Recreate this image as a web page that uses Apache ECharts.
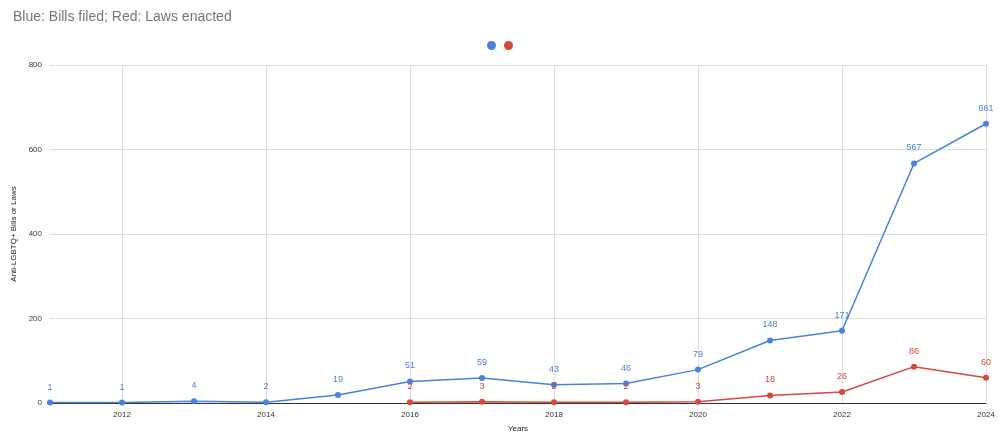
<!DOCTYPE html>
<html>
<head>
<meta charset="utf-8">
<script src="https://cdn.jsdelivr.net/npm/echarts@6/dist/echarts.min.js"></script>
<style>html,body{margin:0;padding:0;background:#fff}#main{width:1000px;height:438px}</style>
</head>
<body>
<div id="main"></div>
<script>
const years = [2011, 2012, 2013, 2014, 2015, 2016, 2017, 2018, 2019, 2020, 2021, 2022, 2023, 2024];
const billsFiled = [1, 1, 4, 2, 19, 51, 59, 43, 46, 79, 148, 171, 567, 661];
const lawYears = [2016, 2017, 2018, 2019, 2020, 2021, 2022, 2023, 2024];
const lawsEnacted = [2, 3, 2, 2, 3, 18, 26, 86, 60];
const yearTicks = [2012, 2014, 2016, 2018, 2020, 2022, 2024];

const pair = (xs, ys) => xs.map((x, i) => [x, ys[i]]);

const mkSeries = (name, color, data) => ({
  name: name,
  type: 'line',
  data: data,
  symbol: 'circle',
  symbolSize: 6,
  lineStyle: { color: color, width: 1.5 },
  itemStyle: { color: color },
  label: { show: true, position: 'top', color: color, fontSize: 9, distance: 8 }
});

const chart = echarts.init(document.getElementById('main'));
chart.setOption({
  animation: false,
  title: {
    text: 'Blue: Bills filed; Red: Laws enacted',
    left: 8, top: 5,
    textStyle: { fontSize: 14, fontWeight: 'normal', color: '#757575', fontFamily: 'Arial, Liberation Sans' }
  },
  legend: {
    top: 36, left: 'center', itemWidth: 9, itemHeight: 9, itemGap: 8,
    icon: 'circle', formatter: () => '',
    data: ['Bills filed', 'Laws enacted']
  },
  grid: { left: 50, right: 14, top: 65, bottom: 35 },
  xAxis: {
    type: 'value', min: 2011, max: 2024,
    name: 'Years', nameLocation: 'middle', nameGap: 22,
    nameTextStyle: { fontSize: 8, color: '#222' },
    axisLabel: { fontSize: 8, color: '#333', customValues: yearTicks, formatter: v => String(v) },
    axisTick: { show: false, customValues: yearTicks },
    axisLine: { lineStyle: { color: '#333' } },
    splitLine: { show: true, lineStyle: { color: '#ddd' } }
  },
  yAxis: {
    type: 'value', min: 0, max: 800, interval: 200,
    name: 'Anti-LGBTQ+ Bills or Laws', nameLocation: 'middle', nameGap: 30,
    nameTextStyle: { fontSize: 8, color: '#222' },
    axisLabel: { fontSize: 8, color: '#333' },
    axisLine: { show: false }, axisTick: { show: false },
    splitLine: { lineStyle: { color: '#ddd' } }
  },
  series: [
    mkSeries('Bills filed', '#4a80e0', pair(years, billsFiled)),
    mkSeries('Laws enacted', '#d9473b', pair(lawYears, lawsEnacted))
  ]
});
</script>
</body>
</html>
